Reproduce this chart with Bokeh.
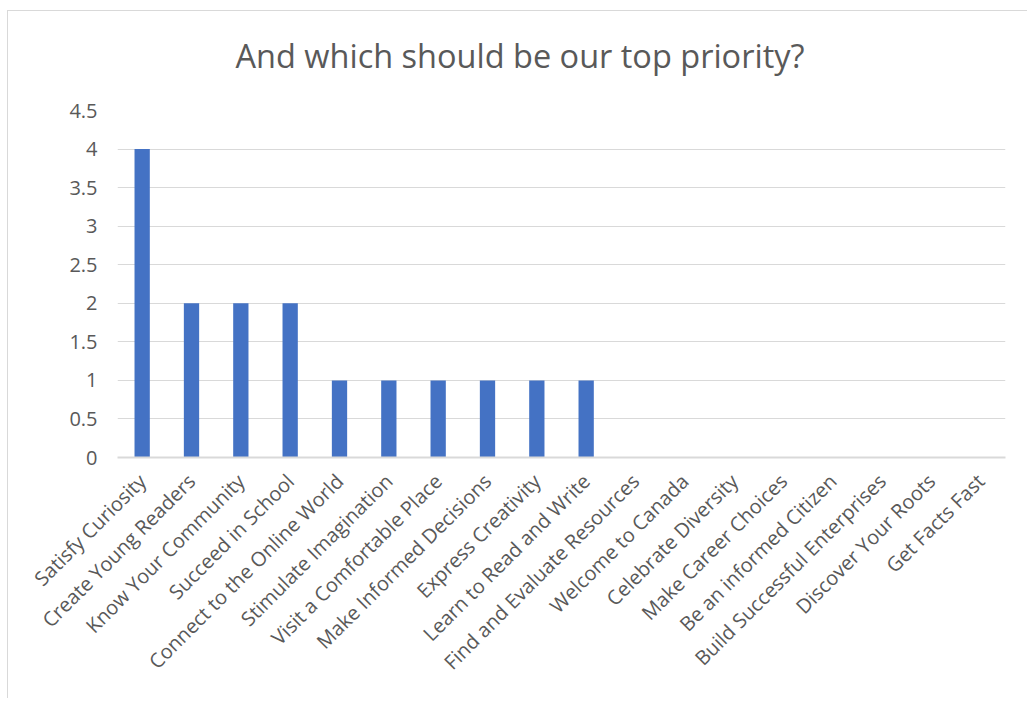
from math import pi
from bokeh.plotting import figure
from bokeh.models import Range1d, FixedTicker, ColumnDataSource
from bokeh.embed import file_html
from bokeh.resources import INLINE

categories = ["Satisfy Curiosity", "Create Young Readers", "Know Your Community", "Succeed in School",
              "Connect to the Online World", "Stimulate Imagination", "Visit a Comfortable Place",
              "Make Informed Decisions", "Express Creativity", "Learn to Read and Write",
              "Find and Evaluate Resources", "Welcome to Canada", "Celebrate Diversity",
              "Make Career Choices", "Be an informed Citizen", "Build Successful Enterprises",
              "Discover Your Roots", "Get Facts Fast"]
votes = [4, 2, 2, 2, 1, 1, 1, 1, 1, 1, 0, 0, 0, 0, 0, 0, 0, 0]
y_ticks = [0, 0.5, 1, 1.5, 2, 2.5, 3, 3.5, 4, 4.5]
y_tick_labels = ["0", "0.5", "1", "1.5", "2", "2.5", "3", "3.5", "4", "4.5"]
title_text = "And which should be our top priority?"

FONT = "Open Sans"
TXT = "#595959"
GRID = "#d9d9d9"

src = ColumnDataSource(dict(cat=categories, val=votes))

p = figure(x_range=categories, y_range=Range1d(0, 4.5), width=1020, height=688,
           output_backend="svg", toolbar_location=None,
           min_border_left=109, min_border_right=23, min_border_top=99, min_border_bottom=242)

p.title.text = title_text
p.title.align = "left"
p.title.vertical_align = "top"
p.title.text_font = FONT
p.title.text_font_size = "32.5px"
p.title.text_font_style = "normal"
p.title.text_color = TXT
p.title.standoff = 42
p.title.padding = dict(left=0, right=0, top=0, bottom=10)
p.title.offset = 118

p.vbar(x="cat", top="val", width=0.31, source=src, color="#4472C4", line_color=None)

p.outline_line_color = None
p.styles = {"margin-left": "7px", "margin-top": "10px",
            "border-left": "1px solid #d9d9d9", "border-top": "1px solid #d9d9d9"}

p.yaxis.ticker = FixedTicker(ticks=y_ticks)
p.yaxis.major_label_overrides = {t: l for t, l in zip(y_ticks, y_tick_labels)}
p.yaxis.axis_line_color = None
p.yaxis.major_tick_line_color = None
p.yaxis.minor_tick_line_color = None
p.yaxis.major_label_text_font = FONT
p.yaxis.major_label_text_font_size = "20px"
p.yaxis.major_label_text_color = TXT
p.yaxis.major_label_standoff = 14

p.xaxis.axis_line_color = GRID
p.xaxis.axis_line_width = 2
p.xaxis.major_tick_line_color = None
p.xaxis.minor_tick_line_color = None
p.xaxis.major_label_orientation = pi / 4
p.xaxis.major_label_text_font = FONT
p.xaxis.major_label_text_font_size = "20px"
p.xaxis.major_label_text_color = TXT
p.xaxis.major_label_standoff = 14

p.xgrid.grid_line_color = None
p.ygrid.grid_line_color = GRID
p.ygrid.grid_line_width = 1

open("out.html", "w").write(file_html(p, INLINE))
